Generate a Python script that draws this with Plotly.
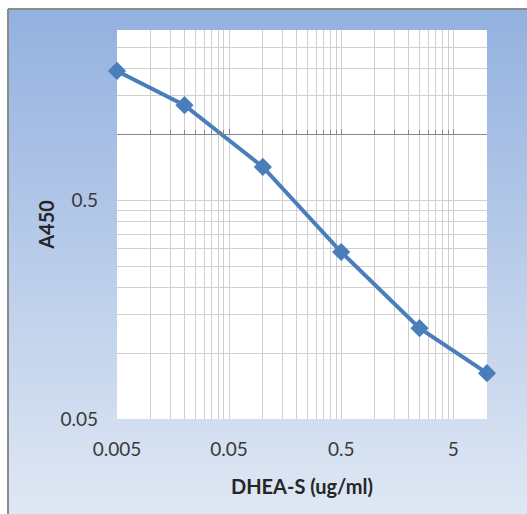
import base64
import math
import plotly.graph_objects as go

# ---- data ----
conc = [0.005, 0.02, 0.1, 0.5, 2.5, 10]          # DHEA-S (ug/ml)
a450 = [1.95, 1.36, 0.71, 0.29, 0.13, 0.081]       # A450

x_tickvals = [0.005, 0.05, 0.5, 5]
x_ticktext = ["0.005", "0.05", "0.5", "5"]
x_minor = [0.01, 0.015, 0.02, 0.025, 0.03, 0.035, 0.04, 0.045,
           0.1, 0.15, 0.2, 0.25, 0.3, 0.35, 0.4, 0.45,
           1, 1.5, 2, 2.5, 3, 3.5, 4, 4.5, 10]
y_tickvals = [0.05, 0.5]
y_ticktext = ["0.05", "0.5"]
y_minor = [0.1, 0.15, 0.2, 0.25, 0.3, 0.35, 0.4, 0.45, 1, 1.5, 2, 2.5, 3]
x_range = [0.005, 10]
y_range = [0.05, 3]
x_cross = 1  # value where horizontal axis line crosses

# ---- style ----
W, H = 527, 514
ML, MR, MT, MB = 117, 40, 30, 95
FONT = "Lato, 'Liberation Sans', sans-serif"
BLUE = "#4A7EBB"
GRID = "#CFCFCF"
AXIS = "#868686"

pw = W - ML - MR
ph = H - MT - MB


def px_to_paper_x(px):
    return (px - ML) / pw


def py_to_paper_y(py):
    return (H - MB - py) / ph


svg = ('<svg xmlns="http://www.w3.org/2000/svg" width="100" height="100" preserveAspectRatio="none">'
       '<defs><linearGradient id="g" x1="0" y1="0" x2="0" y2="1">'
       '<stop offset="0" stop-color="#93B1DF"/>'
       '<stop offset="1" stop-color="#E0E8F4"/>'
       '</linearGradient></defs>'
       '<rect width="100" height="100" fill="url(#g)"/></svg>')
svg_uri = "data:image/svg+xml;base64," + base64.b64encode(svg.encode()).decode()

fig = go.Figure()
# registers the crossing horizontal axis (x2) — draws nothing
fig.add_trace(go.Scatter(
    x=conc, y=a450, mode="none", xaxis="x2", yaxis="y",
    hoverinfo="skip", showlegend=False,
))
fig.add_trace(go.Scatter(
    x=conc, y=a450, mode="lines+markers",
    line=dict(color=BLUE, width=4),
    marker=dict(symbol="diamond", size=14, color=BLUE),
    cliponaxis=False, showlegend=False,
))

lx = [math.log10(v) for v in x_range]
ly = [math.log10(v) for v in y_range]
cross_pos = (math.log10(x_cross) - ly[0]) / (ly[1] - ly[0])

fig.update_layout(
    width=W, height=H,
    margin=dict(l=ML, r=MR, t=MT, b=MB, pad=0),
    paper_bgcolor="white",
    plot_bgcolor="white",
    font=dict(family=FONT, size=19, color="#3A3A3A"),
    xaxis=dict(
        type="log", range=lx, autorange=False,
        tickmode="array", tickvals=x_tickvals, ticktext=x_ticktext,
        showgrid=True, gridcolor=GRID, gridwidth=1.3,
        showline=False, zeroline=False, ticks="",
        ticklabelstandoff=17,
        minor=dict(tickmode="array", tickvals=x_minor, showgrid=True,
                   gridcolor=GRID, gridwidth=1.3, ticks=""),
        title=dict(text="<b>DHEA-S (ug/ml)</b>", standoff=20,
                   font=dict(size=20, color="#262626")),
    ),
    yaxis=dict(
        type="log", range=ly, autorange=False,
        tickmode="array", tickvals=y_tickvals, ticktext=y_ticktext,
        showgrid=True, gridcolor=GRID, gridwidth=1.3,
        showline=False, zeroline=False, ticks="",
        ticklabelstandoff=18,
        minor=dict(tickmode="array", tickvals=y_minor, showgrid=True,
                   gridcolor=GRID, gridwidth=1.3, ticks=""),
        title=dict(text="<b>A450</b>", standoff=0,
                   font=dict(size=20, color="#262626")),
    ),
    xaxis2=dict(
        type="log", range=lx, autorange=False, overlaying="x",
        anchor="free", position=cross_pos,
        showline=True, linecolor=AXIS, linewidth=1.3,
        tickmode="array", tickvals=x_tickvals, ticks="inside", ticklen=5,
        tickcolor=AXIS, tickwidth=1.3,
        minor=dict(tickmode="array", tickvals=x_minor, ticks="inside",
                   ticklen=4, tickcolor=AXIS, tickwidth=1, showgrid=False),
        showticklabels=False, showgrid=False, zeroline=False,
    ),
    yaxis2=dict(
        type="log", range=ly, autorange=False, overlaying="y",
        side="right", anchor="x",
        showline=True, linecolor=AXIS, linewidth=1.3,
        tickmode="array", tickvals=y_tickvals, ticks="outside", ticklen=6,
        tickcolor=AXIS, tickwidth=1.3,
        showticklabels=False, showgrid=False, zeroline=False,
    ),
    images=[dict(
        source=svg_uri, xref="paper", yref="paper",
        x=px_to_paper_x(9), y=py_to_paper_y(10),
        sizex=px_to_paper_x(W + 5) - px_to_paper_x(9),
        sizey=py_to_paper_y(10) - py_to_paper_y(H + 5),
        sizing="stretch", xanchor="left", yanchor="top", layer="below",
    )],
    shapes=[
        dict(type="rect", xref="paper", yref="paper", x0=0, x1=1, y0=0, y1=1,
             fillcolor="white", line=dict(width=0), layer="below"),
        dict(type="line", xref="paper", yref="paper",
             x0=px_to_paper_x(8), x1=px_to_paper_x(8),
             y0=py_to_paper_y(9), y1=py_to_paper_y(H + 5),
             line=dict(color="#8A8A8A", width=2)),
        dict(type="line", xref="paper", yref="paper",
             x0=px_to_paper_x(8), x1=px_to_paper_x(W + 5),
             y0=py_to_paper_y(9), y1=py_to_paper_y(9),
             line=dict(color="#8A8A8A", width=2)),
    ],
)

fig.write_html("out.html",
               config={"displayModeBar": False},
               post_script="document.body.style.margin='0';document.body.style.overflow='hidden';")
